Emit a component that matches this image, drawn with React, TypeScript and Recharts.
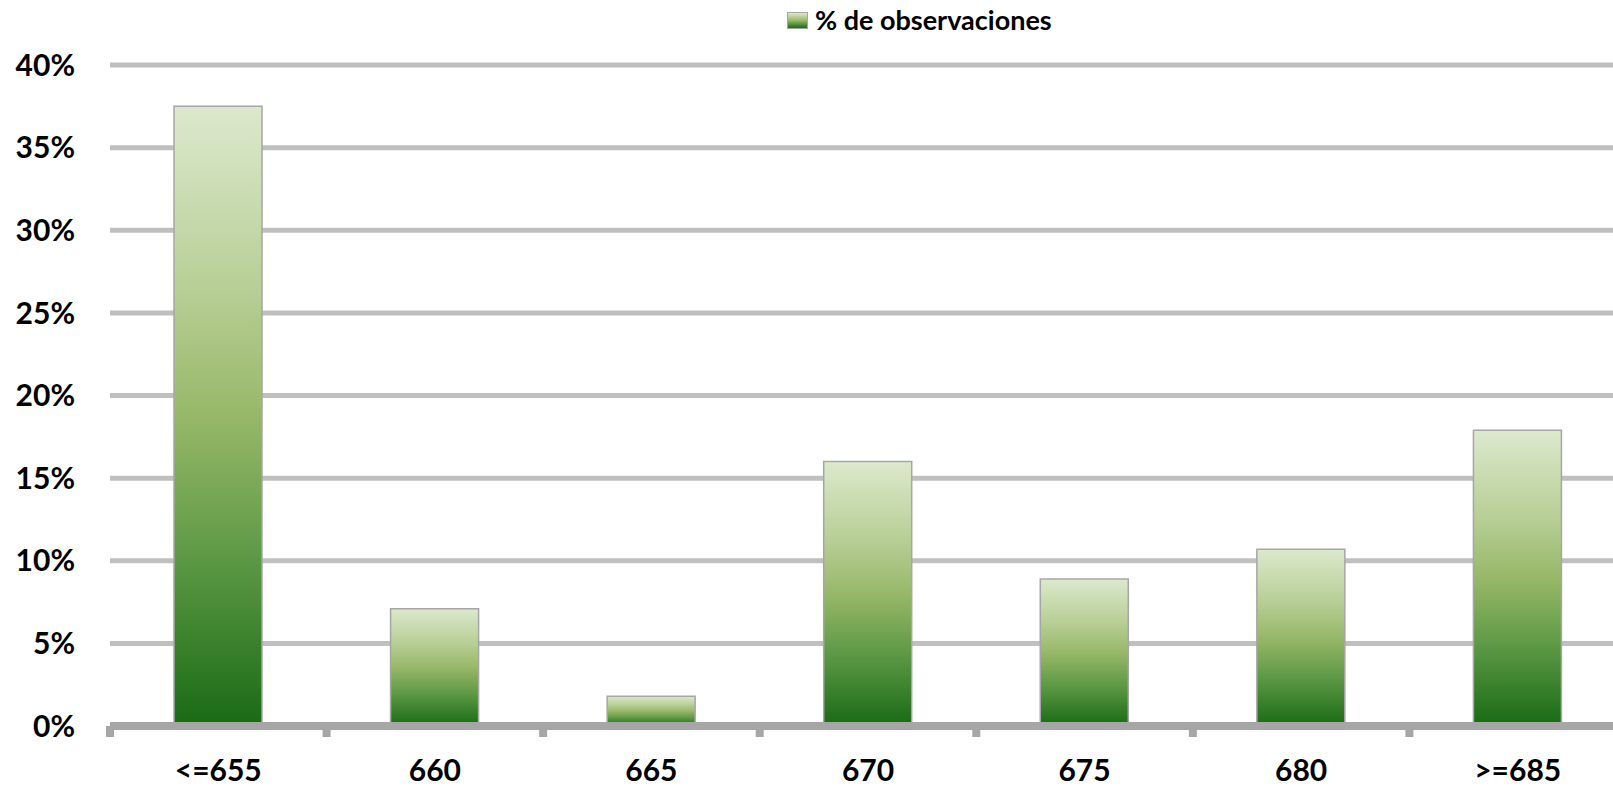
import React from 'react'
import { BarChart, Bar, XAxis, YAxis, CartesianGrid } from 'recharts'

// ─── Data ────────────────────────────────────────────────────────────────────
const categories = ['<=655', '660', '665', '670', '675', '680', '>=685']
const observaciones = [37.5, 7.1, 1.8, 16.0, 8.9, 10.7, 17.9]
const yTicks = [0, 5, 10, 15, 20, 25, 30, 35, 40]

const data = categories.map((c, i) => ({ cat: c, obs: observaciones[i] }))

// ─── Layout ──────────────────────────────────────────────────────────────────
const W = 1626
const H = 787
const Y_AXIS_W = 110
const CAT_W = (W - Y_AXIS_W) / categories.length
const FONT = 'Lato, "Open Sans", sans-serif'
const AXIS_GRAY = '#a6a6a6'

function XTick({ x, y, payload }: any) {
  return (
    <g>
      <line x1={x - CAT_W / 2} x2={x - CAT_W / 2} y1={y} y2={y + 11} stroke={AXIS_GRAY} strokeWidth={8} />
      <text x={x} y={y + 55} textAnchor="middle" fontSize={30} fontWeight={700} fill="#000" fontFamily={FONT}>
        {payload.value}
      </text>
    </g>
  )
}

export default function App() {
  return (
    <div style={{ position: 'absolute', top: 0, left: 0, width: 1613, height: H, overflow: 'hidden', background: '#fff' }}>
      <div
        style={{
          position: 'absolute', top: 3, left: 787, display: 'flex', alignItems: 'center', gap: 7,
          fontFamily: FONT, fontWeight: 700, fontSize: 27, color: '#000', lineHeight: '34px', zIndex: 1,
        }}
      >
        <span
          style={{
            width: 19, height: 15, display: 'inline-block', border: '1px solid #a6a6a6',
            background: 'linear-gradient(to bottom, #dce9cd, #96b766 50%, #1b6b16)',
          }}
        />
        % de observaciones
      </div>
      <BarChart width={W} height={H} data={data} barSize={88} margin={{ top: 65, right: 0, bottom: 0, left: 0 }}>
        <defs>
          <linearGradient id="greenGrad" x1="0" y1="0" x2="0" y2="1">
            <stop offset="0%" stopColor="#dce9cd" />
            <stop offset="30%" stopColor="#b7ce95" />
            <stop offset="50%" stopColor="#97b868" />
            <stop offset="72%" stopColor="#5f9a46" />
            <stop offset="100%" stopColor="#196a15" />
          </linearGradient>
        </defs>
        <CartesianGrid vertical={false} stroke="#bfbfbf" strokeWidth={5} />
        <XAxis
          dataKey="cat"
          height={61}
          axisLine={{ stroke: AXIS_GRAY, strokeWidth: 8 }}
          tickLine={false}
          tickSize={0}
          tickMargin={0}
          interval={0}
          tick={<XTick />}
        />
        <YAxis
          width={Y_AXIS_W}
          domain={[0, 40]}
          ticks={yTicks}
          axisLine={false}
          tickLine={false}
          tickSize={0}
          tickMargin={35}
          tickFormatter={v => `${v}%`}
          tick={{ fontSize: 30, fontWeight: 700, fill: '#000', fontFamily: FONT }}
        />
        <Bar dataKey="obs" fill="url(#greenGrad)" stroke={AXIS_GRAY} strokeWidth={1.5} isAnimationActive={false} />
      </BarChart>
    </div>
  )
}
